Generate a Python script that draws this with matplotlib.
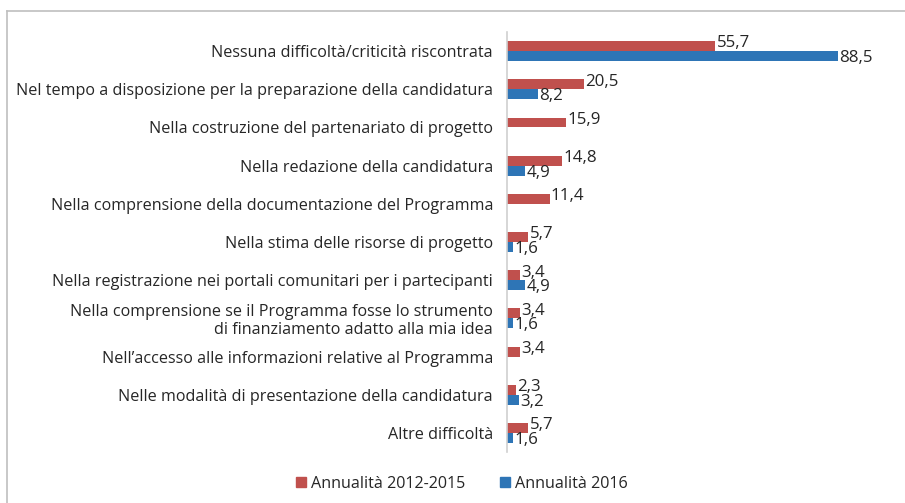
import numpy as np
import matplotlib
matplotlib.use("Agg")
import matplotlib.pyplot as plt
from matplotlib.lines import Line2D
from matplotlib.patches import Patch

categories = [
    "Nessuna difficoltà/criticità riscontrata",
    "Nel tempo a disposizione per la preparazione della candidatura",
    "Nella costruzione del partenariato di progetto",
    "Nella redazione della candidatura",
    "Nella comprensione della documentazione del Programma",
    "Nella stima delle risorse di progetto",
    "Nella registrazione nei portali comunitari per i partecipanti",
    "Nella comprensione se il Programma fosse lo strumento\ndi finanziamento adatto alla mia idea",
    "Nell’accesso alle informazioni relative al Programma",
    "Nelle modalità di presentazione della candidatura",
    "Altre difficoltà",
]
values_2012_2015 = [55.7, 20.5, 15.9, 14.8, 11.4, 5.7, 3.4, 3.4, 3.4, 2.3, 5.7]
values_2016 = [88.5, 8.2, np.nan, 4.9, np.nan, 1.6, 4.9, 1.6, np.nan, 3.2, 1.6]
series_names = ["Annualità 2012-2015", "Annualità 2016"]

plt.rcParams['font.family'] = ['Open Sans', 'DejaVu Sans']
RED = "#C0504D"
BLUE = "#2E75B6"
TXT = "#262626"

W, H = 905, 503
fig = plt.figure(figsize=(W / 100, H / 100), dpi=100)
ax = fig.add_axes([507 / W, 51 / H, 374 / W, 420 / H])

n = len(categories)
y = np.arange(n)
bh = 0.26
off = 0.13

ax.barh(y - off, values_2012_2015, height=bh, color=RED, label=series_names[0])
v16 = np.array(values_2016, dtype=float)
ax.barh(y + off, np.nan_to_num(v16), height=bh, color=BLUE, label=series_names[1])

def fmt(v):
    return f"{v:.1f}".replace(".", ",")

fs = 11.6
vfs = 12.2
for i, v in enumerate(values_2012_2015):
    ax.text(v + 0.3, i - off - 0.07, fmt(v), va="center", ha="left", fontsize=vfs, color=TXT)
for i, v in enumerate(values_2016):
    if not np.isnan(v):
        ax.text(v + 0.3, i + off + 0.05, fmt(v), va="center", ha="left", fontsize=vfs, color=TXT)

ax.set_xlim(0, 100)
ax.set_ylim(n - 0.5, -0.5)
ax.set_yticks(y)
ax.set_yticklabels(categories, fontsize=fs, color=TXT, ha="right", multialignment="right",
                   linespacing=1.15)
ax.tick_params(axis="y", length=0, pad=10)
ax.set_xticks([])
for s in ["top", "right", "bottom"]:
    ax.spines[s].set_visible(False)
ax.spines["left"].set_color("#D0D0D0")
ax.spines["left"].set_linewidth(1.2)

handles = [Patch(color=RED), Patch(color=BLUE)]
fig.legend(handles, series_names, loc="center", bbox_to_anchor=(462 / W, 1 - 484 / H),
           ncol=2, frameon=False, fontsize=fs, handlelength=0.6, handleheight=0.6,
           handletextpad=0.3, columnspacing=2.2, labelcolor=TXT)

# chart border (top and left lines)
fig.add_artist(Line2D([7 / W, 1.0], [1 - 11 / H, 1 - 11 / H], color="#BFBFBF", lw=1.2, transform=fig.transFigure))
fig.add_artist(Line2D([7 / W, 7 / W], [0, 1 - 11 / H], color="#BFBFBF", lw=1.2, transform=fig.transFigure))

fig.savefig("out.png", dpi=100)
